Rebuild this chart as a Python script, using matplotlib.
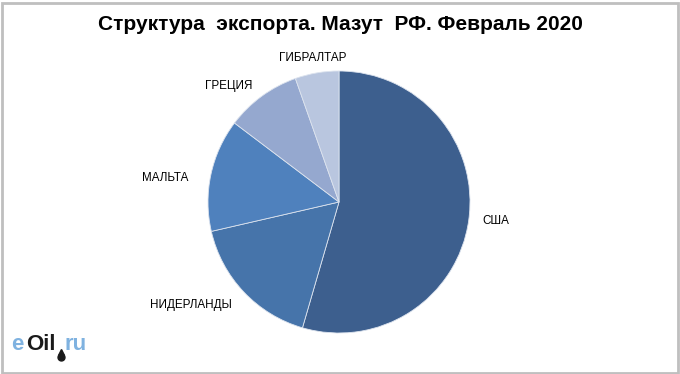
import matplotlib
matplotlib.use("Agg")
import matplotlib.pyplot as plt
import numpy as np
from matplotlib.patches import Rectangle

plt.rcParams['font.family'] = ['Liberation Sans', 'DejaVu Sans']

countries = ["США", "НИДЕРЛАНДЫ", "МАЛЬТА", "ГРЕЦИЯ", "ГИБРАЛТАР"]
shares = [54.5, 16.9, 13.9, 9.3, 5.4]
colors = ["#3D5F8E", "#4674AA", "#4F81BD", "#95A8CF", "#B9C6DF"]
# label positions in pie units (style)
label_xy = [(1.198, -0.145), (-1.13, -0.786), (-1.328, 0.183), (-0.843, 0.885), (-0.198, 1.099)]

W, H = 680, 374
fig = plt.figure(figsize=(W/100, H/100), dpi=100)
fig.patch.set_facecolor("white")
fig.add_artist(Rectangle((1.5/W, 1.5/H), 1 - 4/W, 1 - 4/H, transform=fig.transFigure,
                         fill=False, edgecolor="#BFBFBF", linewidth=2))

cx, cy, r = 339, 202, 131
ax = fig.add_axes([(cx - r)/W, (H - cy - r)/H, 2*r/W, 2*r/H])
wedges, _ = ax.pie(shares, colors=colors, startangle=90, counterclock=False,
                   wedgeprops=dict(edgecolor="#DCE3EE", linewidth=0.6))
ax.set_xlim(-1, 1)
ax.set_ylim(-1, 1)
ax.set_aspect("auto")
ax.axis("off")

for lab, (x, y) in zip(countries, label_xy):
    ax.text(x, y, lab, ha="center", va="center",
            fontsize=8.4, color="black", clip_on=False)

fig.text(0.5, 1 - 24/H, "Структура  экспорта. Мазут  РФ. Февраль 2020",
         ha="center", va="center", fontsize=15, fontweight="bold")

fig.text(11/W, 1 - 345/H, "e", ha="left", va="center", fontsize=16, color="#7FB2E0", fontweight="bold")
fig.text(26/W, 1 - 345/H, "Oil", ha="left", va="center", fontsize=16, color="#1A1A1A", fontweight="bold")
fig.text(64/W, 1 - 345/H, "ru", ha="left", va="center", fontsize=16, color="#7FB2E0", fontweight="bold")
fig.add_artist(plt.Line2D([61/W], [1 - 357/H], marker="o", markersize=5, color="#1A1A1A",
                          transform=fig.transFigure))
fig.add_artist(plt.Line2D([61/W], [1 - 352/H], marker="^", markersize=4, color="#1A1A1A",
                          transform=fig.transFigure))

fig.savefig("out.png", dpi=100)
